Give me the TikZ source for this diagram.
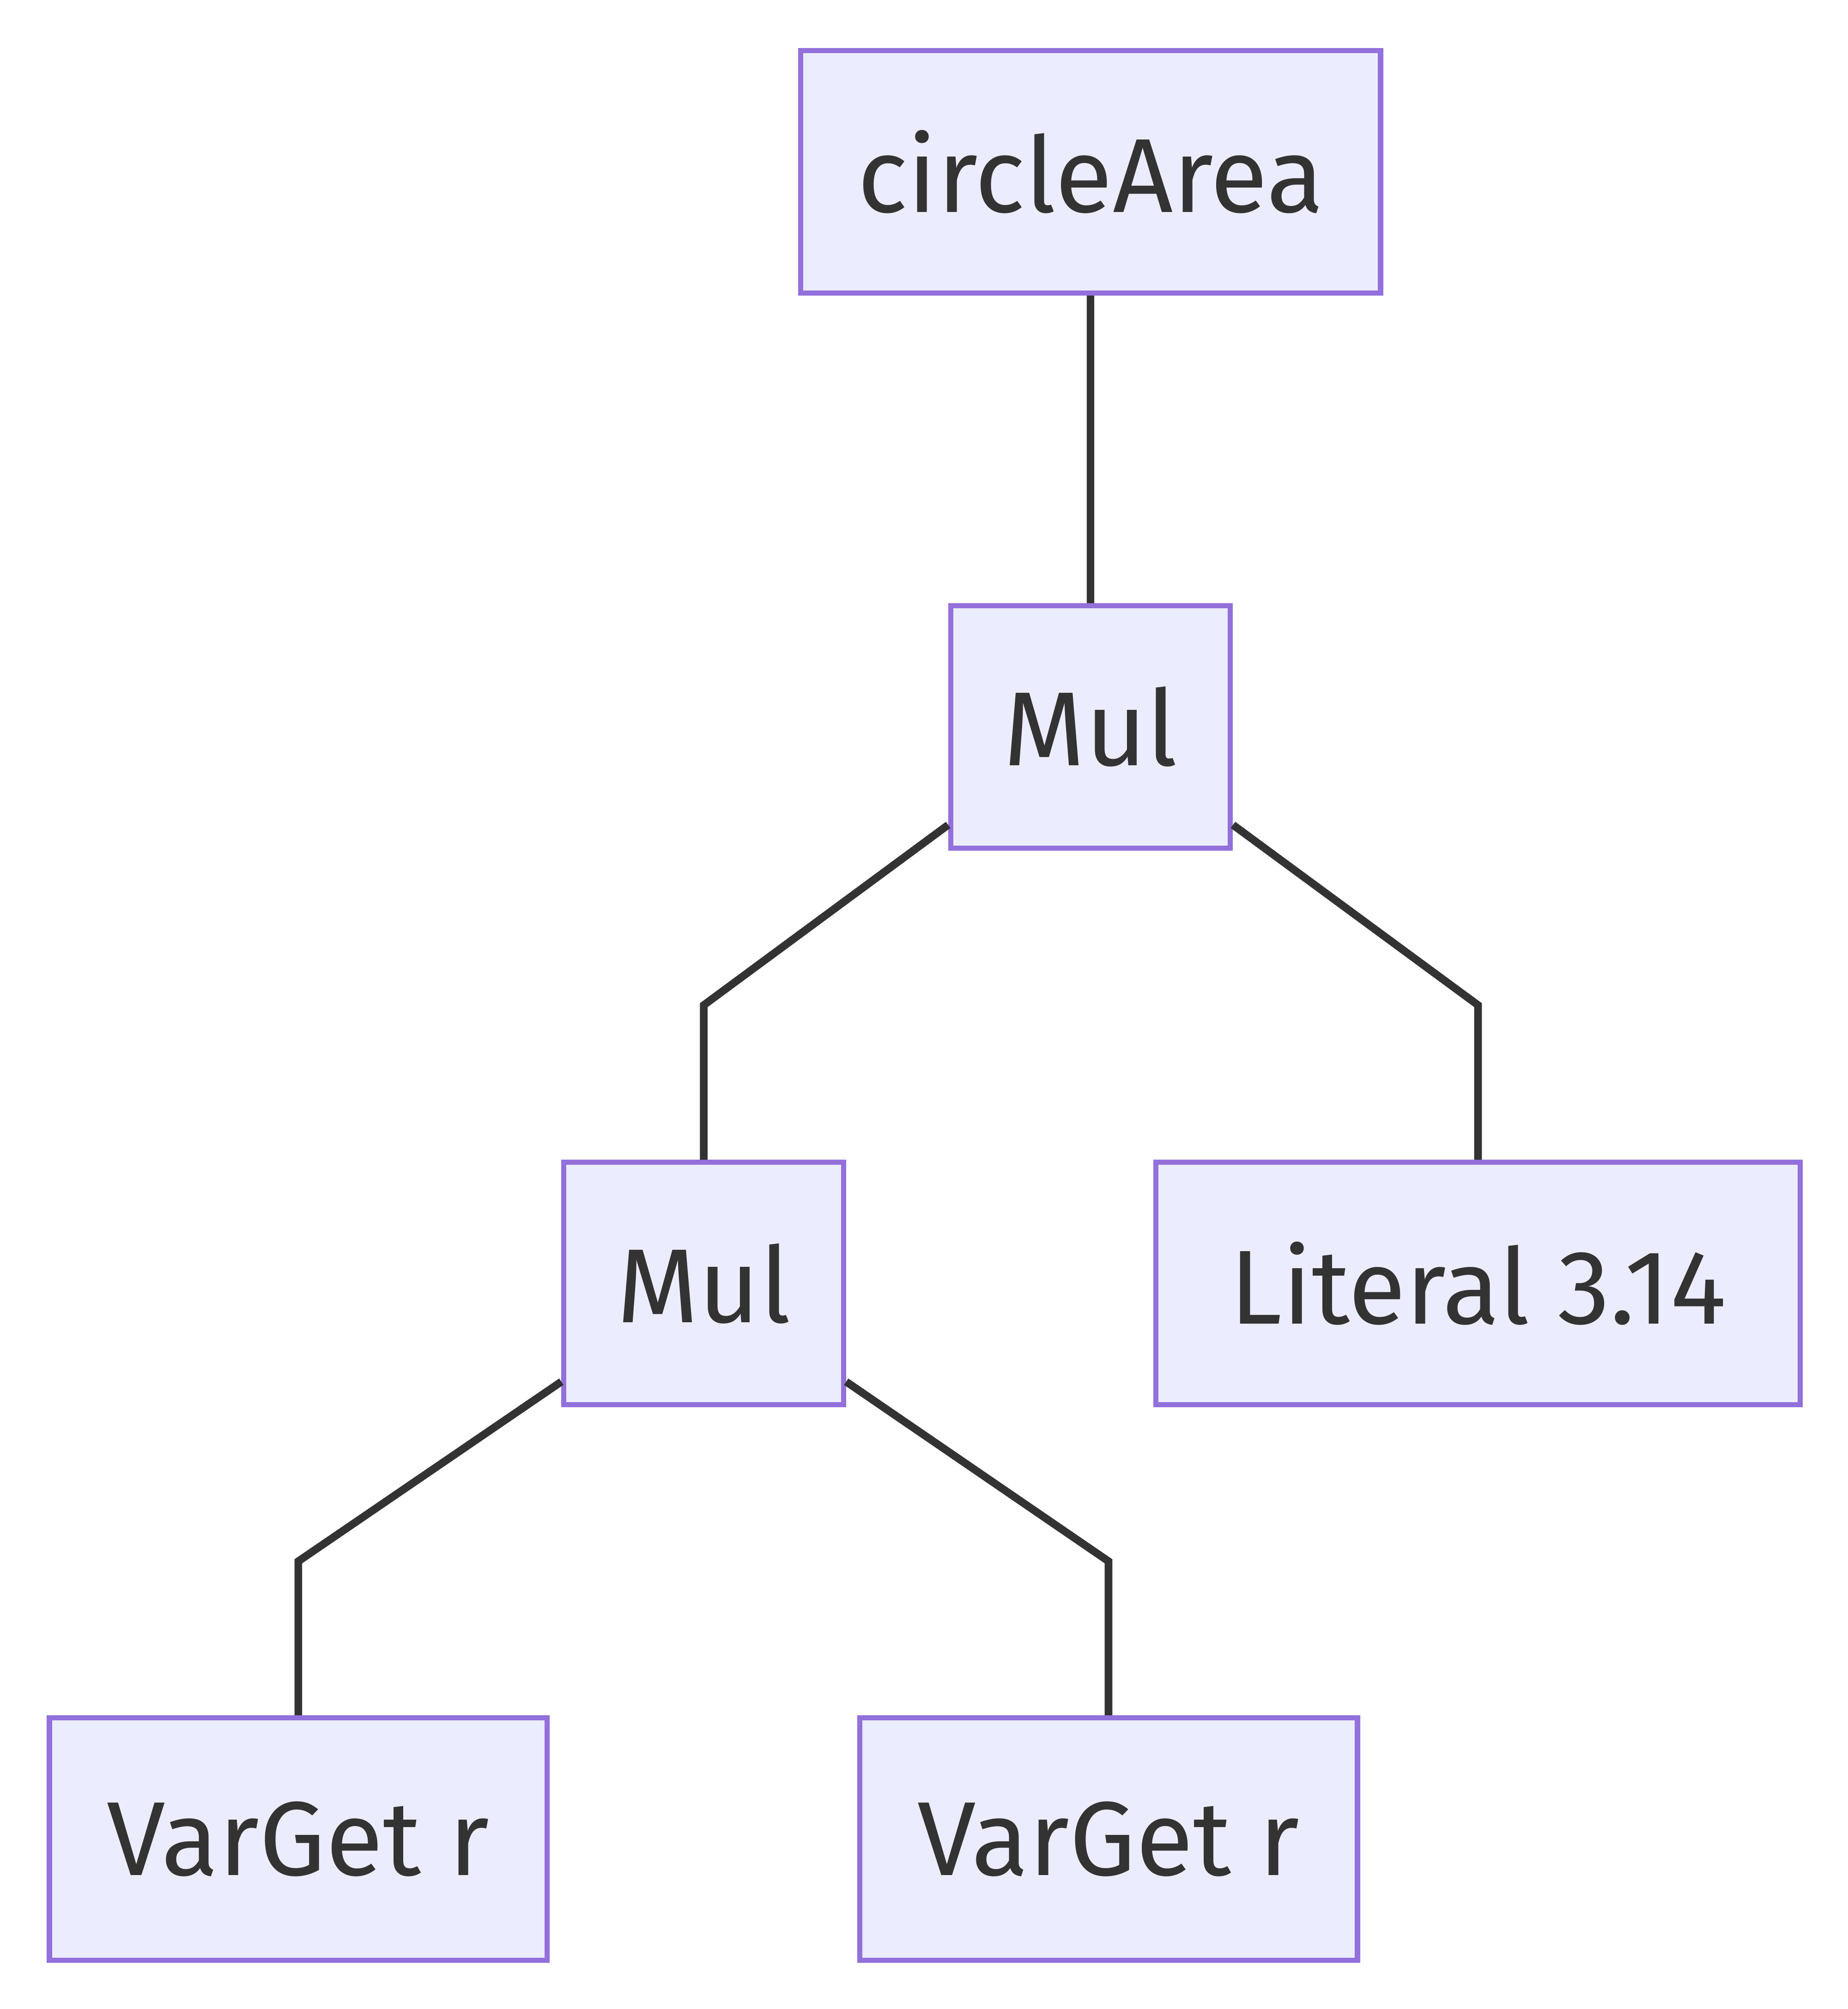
\documentclass[tikz,border=0pt]{standalone}
\usepackage{fontspec}
\setmainfont{Fira Sans}
\usepackage{tikz}
\usetikzlibrary{calc,positioning}
\definecolor{nodefill}{HTML}{ECECFF}
\definecolor{nodeline}{HTML}{9370DB}
\definecolor{edgeline}{HTML}{333333}
\tikzset{
  ast/.style={draw=nodeline,fill=nodefill,line width=2pt,text=edgeline,
    minimum height=94.5pt,inner sep=0pt,font=\fontsize{41}{49}\selectfont},
  link/.style={draw=edgeline,line width=3pt}
}
\begin{document}
\begin{tikzpicture}[x=0.5pt,y=0.5pt]
            \useasboundingbox (0,0) rectangle (1440,-1566);
            % nodes of the tree
            \node[ast,minimum width=226pt] (root) at (850,-134) {circleArea};
            \node[ast,minimum width=109pt] (mulA) at (850,-566.5) {Mul};
            \node[ast,minimum width=109pt] (mulB) at (548.5,-1000.5) {Mul};
            \node[ast,minimum width=251pt] (lit) at (1152,-1000.5) {Literal 3.14};
            \node[ast,minimum width=194pt] (varA) at (232.5,-1433.5) {VarGet r};
            \node[ast,minimum width=194pt] (varB) at (864,-1433.5) {VarGet r};
            % bends half way down
            \coordinate (kA) at ($(mulA.south)!.5!(mulB.north)$);
            \coordinate (kB) at ($(mulB.south)!.5!(varA.north)$);
            \draw[link] (root) -- (mulA);
            \draw[link] ($(mulA.south west)+(0,20)$) -- (mulB.north |- kA) -- (mulB.north);
            \draw[link] ($(mulA.south east)+(0,20)$) -- (lit.north |- kA) -- (lit.north);
            \draw[link] ($(mulB.south west)+(0,20)$) -- (varA.north |- kB) -- (varA.north);
            \draw[link] ($(mulB.south east)+(0,20)$) -- (varB.north |- kB) -- (varB.north);
        \end{tikzpicture}
\end{document}
